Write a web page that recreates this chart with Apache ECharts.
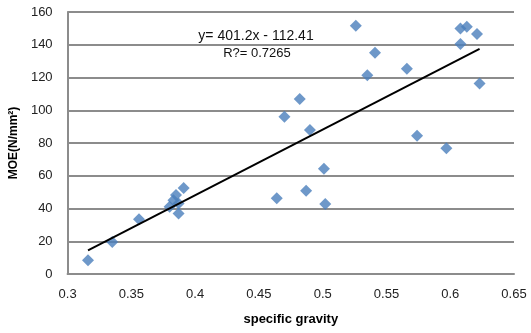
<!DOCTYPE html>
<html><head><meta charset="utf-8">
<script src="https://cdn.jsdelivr.net/npm/echarts@6/dist/echarts.min.js"></script>
<style>html,body{margin:0;padding:0;background:#fff}#c{width:531px;height:333px}</style>
</head><body><div id="c"></div>
<script>
var specificGravity = [0.316,0.335,0.356,0.380,0.383,0.385,0.387,0.387,0.391,0.464,0.470,0.482,0.487,0.490,0.501,0.502,0.526,0.535,0.541,0.566,0.574,0.597,0.608,0.608,0.613,0.621,0.623];
var moe = [8.4,19.5,33.4,41,45,48.2,43,37,52.5,46.2,96,106.9,50.9,87.9,64.3,42.7,151.6,121.3,135.1,125.4,84.5,76.8,150,140.4,151,146.6,116.4];
var slope = 401.2, intercept = -112.41;
var eqText = 'y= 401.2x - 112.41';
var r2Text = 'R?= 0.7265';
var xTicks = {min:0.3, max:0.65, interval:0.05};
var yTicks = {min:0, max:160, interval:20};

var pts = specificGravity.map(function(x,i){return [x, moe[i]];});
var xMinD = Math.min.apply(null, specificGravity), xMaxD = Math.max.apply(null, specificGravity);
var trend = [[xMinD, slope*xMinD+intercept],[xMaxD, slope*xMaxD+intercept]];

var chart = echarts.init(document.getElementById('c'));
var font = 'Liberation Sans, Arial, sans-serif';
chart.setOption({
  animation:false,
  grid:{left:62,right:17,top:12,bottom:59},
  xAxis:{type:'value',min:xTicks.min,max:xTicks.max,interval:xTicks.interval,
    name:'specific gravity',nameLocation:'middle',nameGap:39,
    nameTextStyle:{fontFamily:font,fontSize:13,fontWeight:'bold',color:'#000'},
    axisLine:{show:true,lineStyle:{color:'#8c8c8c',width:2}},
    axisTick:{show:false},
    axisLabel:{fontFamily:font,fontSize:13,color:'#222',margin:14,
      formatter:function(v){return String(Math.round(v*100)/100);}},
    splitLine:{show:false}},
  yAxis:{type:'value',min:yTicks.min,max:yTicks.max,interval:yTicks.interval,
    name:'MOE(N/mm²)',nameLocation:'middle',nameGap:40,nameRotate:90,
    nameTextStyle:{fontFamily:font,fontSize:12,fontWeight:'bold',color:'#000'},
    axisLine:{show:true,lineStyle:{color:'#8c8c8c',width:2}},
    axisTick:{show:false},
    axisLabel:{fontFamily:font,fontSize:13,color:'#222',margin:15},
    splitLine:{show:true,lineStyle:{color:'#8c8c8c',width:2}}},
  series:[
    {type:'scatter',data:pts,symbol:'diamond',symbolSize:12,
      itemStyle:{color:'#4A7EBB'},z:3},
    {type:'line',data:trend,symbol:'none',lineStyle:{color:'#000',width:2},z:4,silent:true}
  ],
  graphic:[
    {type:'text',x:256,y:36,style:{text:eqText,font:'14px '+font,fill:'#111',align:'center',verticalAlign:'middle'}},
    {type:'text',x:257,y:53,style:{text:r2Text,font:'13px '+font,fill:'#111',align:'center',verticalAlign:'middle'}}
  ]
});
</script></body></html>
